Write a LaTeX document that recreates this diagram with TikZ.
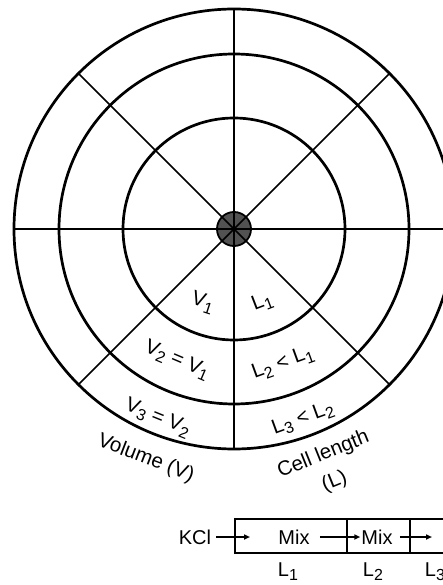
\documentclass[tikz,border=0pt]{standalone}
\usepackage{fontspec}
\setmainfont{Liberation Sans}
\usetikzlibrary{positioning,arrows.meta}
\newcommand\ix[1]{\raisebox{-0.4ex}{\fontsize{16}{16}\selectfont #1}}
\tikzset{
  % --- disc of rings and spokes ---
  ring/.style={line width=2.7pt},
  spoke/.style={line width=1.6pt},
  hub/.style={circle, draw=black, line width=1.8pt, fill=black!68,
              minimum size=34pt, inner sep=0pt},
  zonelabel/.style={font=\fontsize{20.5}{22}\selectfont, inner sep=1pt},
  % --- channel of cells ---
  cellbox/.style={draw, line width=1.5pt, minimum height=34pt,
                  inner sep=0pt, outer sep=0pt},
  celltext/.style={font=\fontsize{20}{22}\selectfont, inner sep=1pt},
  flow/.style={line width=1.5pt, -{Triangle[length=6pt,width=5pt]}},
}

\begin{document}
\begin{tikzpicture}[x=1pt,y=1pt]
  \useasboundingbox (-234,-356) rectangle (209,229);
  \clip (-234,-356) rectangle (209,229);

  % rings, hub, then spokes over the hub
  \foreach \r in {111,175,220}
    \draw[ring] (0,0) circle (\r);
  \node[hub] (hub) at (0,0) {};
  \foreach \a in {0,45,90,135}
    \draw[spoke] (\a:220) -- (\a+180:220);

  % volume side (left) and cell length side (right)
  \node[zonelabel, rotate=-18] (v1) at (247:80)  {V\ix{1}};
  \node[zonelabel, rotate=21]  (l1) at (291:79)  {L\ix{1}};
  \node[zonelabel, rotate=-23] (v2) at (246.5:143) {V\ix{2} = V\ix{1}};
  \node[zonelabel, rotate=20]  (l2) at (290:143) {L\ix{2} < L\ix{1}};
  \node[zonelabel, rotate=-22] (v3) at (248:204) {V\ix{3} = V\ix{2}};
  \node[zonelabel, rotate=20]  (l3) at (290:202) {L\ix{3} < L\ix{2}};
  \node[zonelabel, rotate=-21] (vol) at (249:246) {Volume (V)};
  \node[zonelabel, rotate=22]  (len) at (291.6:243) {Cell length};
  \node[zonelabel, rotate=22]  (lenL) at (291.7:272) {(L)};

  % channel below the disc
  \node[cellbox, minimum width=112pt] (cella) at (57,-307) {};
  \node[cellbox, minimum width=63pt, right=0pt of cella] (cellb) {};
  \node[cellbox, minimum width=84pt, right=0pt of cellb] (cellc) {};
  \node[celltext] (kcl)  at (-39,-308) {KCl};
  \node[celltext] (mixa) at (60,-308)  {Mix};
  \node[celltext] (mixb) at (143,-308) {Mix};
  \coordinate (ina)  at (16,-308);
  \coordinate (outc) at (198,-308);
  \draw[flow, shorten <=4pt] (kcl) -- (ina);
  \draw[flow, shorten <=9pt] (mixa) -- (mixb);
  \draw[flow, shorten <=6pt] (mixb) -- (outc);
  \node[celltext] (la) at (54,-343)  {L\ix{1}};
  \node[celltext] (lb) at (139,-343) {L\ix{2}};
  \node[celltext] (lc) at (201,-343) {L\ix{3}};
\end{tikzpicture}
\end{document}
